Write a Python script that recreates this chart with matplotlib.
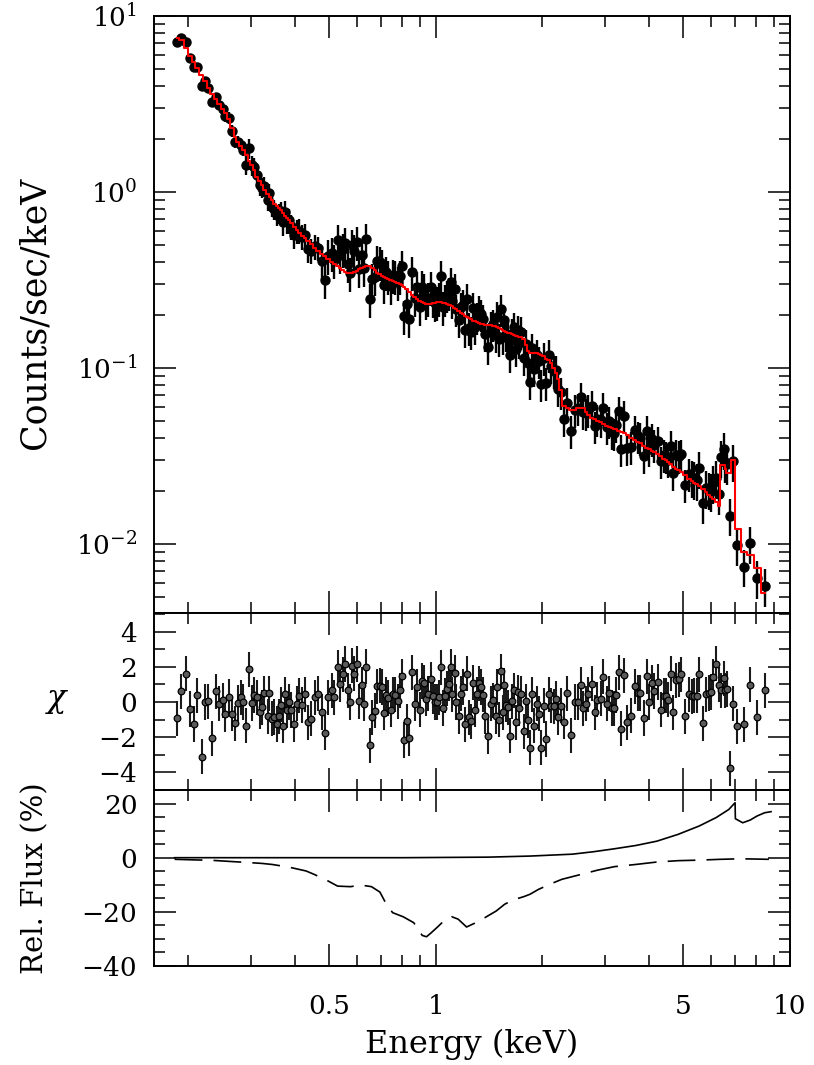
import numpy as np
import matplotlib
matplotlib.use('Agg')
import matplotlib.pyplot as plt
from matplotlib.ticker import FixedLocator, FixedFormatter, NullFormatter, MultipleLocator, LogLocator

# ---------------- data ----------------
energy = [
    0.186, 0.191, 0.197, 0.202, 0.207, 0.212, 0.218, 0.223, 0.228, 0.234,
    0.239, 0.244, 0.250, 0.254, 0.260, 0.266, 0.271, 0.276, 0.281, 0.286,
    0.291, 0.297, 0.302, 0.306, 0.312, 0.318, 0.323, 0.328, 0.335, 0.339,
    0.344, 0.350, 0.356, 0.360, 0.365, 0.370, 0.375, 0.379, 0.384, 0.390,
    0.398, 0.406, 0.412, 0.419, 0.427, 0.435, 0.445, 0.455, 0.465,
    0.476, 0.486, 0.496, 0.508, 0.516, 0.528, 0.537, 0.545, 0.554, 0.563,
    0.572, 0.580, 0.589, 0.598, 0.607, 0.618, 0.627, 0.637, 0.651, 0.661,
    0.673, 0.683, 0.694, 0.704, 0.712, 0.723, 0.733, 0.745, 0.756, 0.767,
    0.780, 0.791, 0.800, 0.812, 0.827, 0.841, 0.857, 0.871, 0.884, 0.900,
    0.913, 0.927, 0.939, 0.951, 0.966, 0.981, 0.994, 1.007, 1.020, 1.035,
    1.047, 1.058, 1.072, 1.086, 1.100, 1.112, 1.129, 1.141, 1.159, 1.174,
    1.190, 1.205, 1.224, 1.240, 1.258, 1.275, 1.292, 1.309, 1.326, 1.340,
    1.358, 1.376, 1.403, 1.431, 1.452, 1.475, 1.487, 1.510, 1.527, 1.544,
    1.560, 1.577, 1.597, 1.618, 1.640, 1.661, 1.683, 1.701, 1.719, 1.742,
    1.769, 1.792, 1.816, 1.840, 1.867, 1.896, 1.926, 1.954, 1.984, 2.015,
    2.050, 2.082, 2.117, 2.151, 2.179, 2.212, 2.251, 2.300, 2.350, 2.412,
    2.466, 2.519, 2.569, 2.607, 2.653, 2.694, 2.759, 2.808, 2.856, 2.926,
    2.970, 3.036, 3.088, 3.143, 3.184, 3.219, 3.283, 3.339, 3.405, 3.472,
    3.563, 3.650, 3.715, 3.771, 3.863, 3.945, 4.005, 4.076, 4.137, 4.237,
    4.321, 4.398, 4.456, 4.513, 4.603, 4.681, 4.773, 4.849, 4.931, 5.051,
    5.194, 5.287, 5.367, 5.450, 5.544, 5.678, 5.802, 5.893, 5.982, 6.061,
    6.192, 6.302, 6.397, 6.512, 6.566, 6.653, 6.759, 6.902, 7.098, 7.417,
    7.727, 8.070, 8.502]

counts = [
    7.11, 7.53, 7.16, 5.78, 5.12, 5.15, 3.98, 4.30, 3.91, 3.24,
    3.48, 3.13, 2.96, 2.72, 2.64, 2.22, 1.93, 1.92, 1.86, 1.74,
    1.43, 1.78, 1.42, 1.38, 1.25, 1.09, 1.06, 1.08, 0.90, 0.984,
    0.824, 0.796, 0.740, 0.752, 0.779, 0.671, 0.766, 0.686, 0.69, 0.638,
    0.566, 0.600, 0.604, 0.556, 0.568, 0.473, 0.463, 0.492, 0.480,
    0.403, 0.318, 0.435, 0.448, 0.409, 0.531, 0.439, 0.472, 0.513, 0.390,
    0.347, 0.497, 0.464, 0.518, 0.366, 0.438, 0.370, 0.537, 0.247, 0.319,
    0.328, 0.406, 0.400, 0.386, 0.297, 0.349, 0.333, 0.293, 0.337, 0.331,
    0.307, 0.334, 0.380, 0.198, 0.232, 0.189, 0.349, 0.249, 0.287, 0.223,
    0.290, 0.281, 0.239, 0.249, 0.289, 0.247, 0.235, 0.236, 0.249, 0.332,
    0.222, 0.246, 0.259, 0.268, 0.306, 0.239, 0.282, 0.216, 0.187, 0.221,
    0.229, 0.164, 0.248, 0.169, 0.160, 0.219, 0.172, 0.194, 0.211, 0.202,
    0.189, 0.156, 0.131, 0.172, 0.177, 0.153, 0.195, 0.146, 0.215, 0.150,
    0.187, 0.156, 0.151, 0.118, 0.156, 0.170, 0.128, 0.164, 0.143, 0.160,
    0.114, 0.136, 0.107, 0.0827, 0.129, 0.0989, 0.119, 0.109, 0.0807, 0.114,
    0.0825, 0.119, 0.103, 0.0964, 0.0968, 0.0758, 0.0728, 0.0516, 0.0636, 0.0438,
    0.058, 0.059, 0.0682, 0.0559, 0.0552, 0.0577, 0.0608, 0.0467, 0.0510, 0.0505,
    0.0595, 0.0460, 0.0498, 0.0432, 0.0426, 0.0475, 0.0567, 0.0345, 0.0533, 0.0349,
    0.0356, 0.0443, 0.0410, 0.0402, 0.0316, 0.0438, 0.0345, 0.0397, 0.0365, 0.0383,
    0.0295, 0.0322, 0.0314, 0.0298, 0.0360, 0.0252, 0.0321, 0.0318, 0.0323, 0.0217,
    0.0251, 0.0239, 0.0235, 0.0230, 0.0269, 0.0170, 0.0209, 0.0205, 0.0201, 0.0223,
    0.0238, 0.0191, 0.0310, 0.0345, 0.0293, 0.0284, 0.0145, 0.0296, 0.00984, 0.00744,
    0.0101, 0.00641, 0.0058]

# fractional size of the error bars, read region by region
rel_err = [0.05] * 12 + [0.08] * 8 + [0.13] * 15 + [0.16] * 14 + \
          [0.22] * 51 + [0.21] * 100 + [0.24] * 22

model = [
    7.45, 7.3, 6.6, 5.9, 5.45, 5.05, 4.65, 4.3, 3.9, 3.6,
    3.38, 3.15, 2.95, 2.82, 2.6, 2.3, 2.05, 1.92, 1.83, 1.74,
    1.62, 1.5, 1.42, 1.33, 1.22, 1.15, 1.09, 1.03, 0.97, 0.94,
    0.90, 0.86, 0.83, 0.81, 0.79, 0.76, 0.735, 0.715, 0.69, 0.665,
    0.635, 0.605, 0.585, 0.565, 0.545, 0.525, 0.505, 0.48, 0.46,
    0.445, 0.43, 0.415, 0.40, 0.39, 0.378, 0.368, 0.36, 0.353, 0.348,
    0.347, 0.348, 0.352, 0.357, 0.363, 0.370, 0.376, 0.380, 0.378, 0.370,
    0.358, 0.348, 0.340, 0.333, 0.329, 0.325, 0.320, 0.316, 0.312, 0.308,
    0.304, 0.298, 0.295, 0.288, 0.280, 0.270, 0.260, 0.253, 0.247, 0.241,
    0.236, 0.233, 0.231, 0.230, 0.231, 0.233, 0.235, 0.236, 0.237, 0.236,
    0.235, 0.233, 0.231, 0.229, 0.227, 0.224, 0.220, 0.216, 0.211, 0.206,
    0.202, 0.198, 0.195, 0.192, 0.189, 0.186, 0.184, 0.182, 0.180, 0.178,
    0.177, 0.176, 0.175, 0.175, 0.174, 0.173, 0.172, 0.169, 0.166, 0.164,
    0.162, 0.160, 0.158, 0.157, 0.155, 0.154, 0.152, 0.151, 0.150, 0.149,
    0.146, 0.135, 0.125, 0.122, 0.121, 0.121, 0.121, 0.120, 0.119, 0.117,
    0.113, 0.111, 0.106, 0.100, 0.094, 0.086, 0.075, 0.061, 0.059, 0.058,
    0.058, 0.059, 0.059, 0.059, 0.056, 0.054, 0.052, 0.051, 0.050, 0.049,
    0.048, 0.0467, 0.0462, 0.0455, 0.0450, 0.0447, 0.0440, 0.0433, 0.0425, 0.0415,
    0.0400, 0.0388, 0.0380, 0.0373, 0.0362, 0.0352, 0.0345, 0.0338, 0.0332, 0.0323,
    0.0315, 0.0305, 0.0298, 0.0292, 0.0283, 0.0275, 0.0267, 0.0262, 0.0255, 0.0245,
    0.0235, 0.0228, 0.0223, 0.0218, 0.0213, 0.0204, 0.0196, 0.0190, 0.0185, 0.0180,
    0.0172, 0.0165, 0.0281, 0.0281, 0.0265, 0.0254, 0.0254, 0.0300, 0.0121, 0.0090,
    0.0087, 0.0073, 0.00525]

chi = [
    -0.93, 0.6, 1.6, -0.4, -1.25, 0.38, -3.1, 0.0, 0.05, -2.05,
    0.6, -0.1, 0.1, -0.7, 0.3, -0.66, -1.2, -0.05, 0.27, 0.0,
    -1.35, 1.85, -0.05, 0.4, 0.28, -0.55, -0.3, 0.5, -0.8, 0.5,
    -0.95, -0.85, -1.25, -0.8, -0.15, -1.35, 0.45, -0.45, 0.0, -0.45,
    -1.25, -0.1, 0.35, -0.17, 0.45, -1.15, -0.95, 0.27, 0.47,
    -0.57, -1.75, 0.27, 0.66, 0.27, 1.97, 1.02, 1.57, 2.16, 0.66,
    0.0, 2.06, 1.6, 2.16, 0.04, 0.98, -0.1, 2.0, -2.46, -0.87,
    -0.5, 0.9, 0.93, 0.85, -0.6, 0.42, 0.23, -0.44, 0.45, 0.42,
    0.05, 0.66, 1.46, -2.16, -1.1, -2.06, 1.7, -0.1, 0.87, -0.44,
    1.19, 1.08, 0.19, 0.47, 1.3, 0.34, 0.0, 0.0, 0.28, 1.97,
    -0.34, 0.36, 0.76, 1.04, 2.0, 0.44, 1.65, 0.0, -0.8, 0.47,
    0.85, -1.27, 1.6, -0.87, -1.1, 1.1, -0.44, 0.44, 1.06, 0.85,
    0.42, -0.8, -1.93, -0.1, 0.1, -0.81, 0.85, -1.0, 1.74, -0.59,
    0.95, -0.15, -0.3, -1.91, 0.04, 0.66, -1.15, 0.55, -0.34, 0.47,
    -1.67, 0.04, -1.04, -2.6, 0.44, -1.35, -0.1, -0.66, -2.6, -0.2,
    -2.1, 0.44, -0.2, -0.25, 0.2, -0.85, -0.2, -1.12, 0.5, -1.88,
    0.0, 0.0, 0.97, -0.36, -0.1, 0.44, 1.04, -0.59, 0.13, 0.2,
    1.44, -0.1, 0.5, -0.34, -0.36, 0.4, 1.69, -1.52, 1.52, -1.15,
    -0.78, 0.89, 0.51, 0.51, -0.91, 1.46, 0.0, 1.08, 0.63, 1.14,
    -0.44, 0.36, 0.36, 0.13, 1.61, -0.59, 1.23, 1.3, 1.57, -0.8,
    0.44, 0.32, 0.36, 0.36, 1.57, -1.21, 0.44, 0.51, 0.57, 1.42,
    2.18, 0.98, 0.66, 1.36, 0.66, 0.74, -3.77, -0.1, -1.38, -1.27,
    0.98, -0.87, 0.66]

# relative flux panel
relflux_energy_solid = [0.183, 0.35, 0.81, 1.064, 1.402, 1.845, 2.428, 2.786, 3.196,
                        3.668, 4.207, 4.827, 5.540, 6.184, 6.716, 6.997, 7.01, 7.352,
                        7.72, 8.074, 8.482, 8.84]
relflux_solid = [0.0, 0.0, 0.0, 0.1, 0.2, 0.6, 1.3, 2.2, 3.3,
                 4.5, 6.1, 8.6, 11.7, 14.8, 17.8, 20.3, 14.4, 12.9,
                 13.9, 15.4, 16.6, 17.0]

relflux_energy_dash = [0.183, 0.235, 0.322, 0.345, 0.385, 0.430, 0.454, 0.493, 0.528,
                       0.574, 0.614, 0.658, 0.695, 0.725, 0.755, 0.808, 0.866, 0.915,
                       0.941, 0.967, 1.007, 1.064, 1.109, 1.156, 1.221, 1.326, 1.402,
                       1.480, 1.564, 1.652, 1.770, 1.845, 1.949, 2.117, 2.267, 2.428,
                       2.638, 2.862, 3.196, 3.668, 4.207, 4.827, 5.540, 6.355, 7.290,
                       8.718]
relflux_dash = [-0.6, -1.0, -2.1, -2.5, -3.5, -4.9, -6.2, -8.4, -10.5,
                -10.7, -10.1, -10.7, -12.7, -17.2, -20.3, -21.8, -24.0, -28.7,
                -29.2, -27.9, -25.8, -22.8, -21.8, -22.7, -25.6, -23.4, -21.5,
                -19.7, -17.2, -15.6, -14.4, -13.5, -11.7, -9.6, -8.0, -7.0,
                -5.8, -4.6, -3.3, -2.5, -1.6, -1.1, -0.9, -0.6, -0.4,
                -0.6]

x_major = [0.5, 1, 5, 10]
x_major_labels = ['0.5', '1', '5', '10']
x_minor = [0.2, 0.3, 0.4, 0.6, 0.7, 0.8, 0.9, 2, 3, 4, 6, 7, 8, 9]

# ---------------- figure ----------------
plt.rcParams['font.family'] = ['DejaVu Serif']
plt.rcParams['mathtext.fontset'] = 'dejavuserif'
plt.rcParams['lines.scale_dashes'] = False

E = np.array(energy)
C = np.array(counts)
R = np.array(rel_err)
M = np.array(model)
X = np.array(chi)

fig = plt.figure(figsize=(8.14, 10.65), dpi=100)
L, W = 154 / 814, 636 / 814
ax1 = fig.add_axes([L, 1 - 613 / 1065, W, 597 / 1065])
ax2 = fig.add_axes([L, 1 - 790 / 1065, W, 177 / 1065])
ax3 = fig.add_axes([L, 1 - 966 / 1065, W, 176 / 1065])

TICK_FS = 19


def style(ax, bottom_labels=False):
    ax.set_xscale('log')
    ax.set_xlim(0.16, 10)
    ax.xaxis.set_major_locator(FixedLocator(x_major))
    ax.xaxis.set_minor_locator(FixedLocator(x_minor))
    ax.xaxis.set_minor_formatter(NullFormatter())
    if bottom_labels:
        ax.xaxis.set_major_formatter(FixedFormatter(x_major_labels))
    else:
        ax.xaxis.set_major_formatter(NullFormatter())
    ax.tick_params(which='both', direction='in', top=True, right=True,
                   width=1.1, labelsize=TICK_FS, color='black')
    ax.tick_params(which='major', length=16)
    ax.tick_params(which='minor', length=8)
    ax.tick_params(axis='y', which='both', pad=12)
    ax.tick_params(axis='x', which='both', pad=20)
    for s in ax.spines.values():
        s.set_linewidth(1.4)


# top panel: spectrum
ax1.errorbar(E, C, yerr=C * R, fmt='o', color='black', ms=6.5,
             elinewidth=1.7, capsize=0, zorder=2)
ax1.step(E, M, where='mid', color='red', lw=1.5, zorder=3)
ax1.set_yscale('log')
ax1.set_ylim(0.00405, 10)
ax1.yaxis.set_major_locator(LogLocator(base=10))
ax1.yaxis.set_minor_locator(LogLocator(base=10, subs=np.arange(2, 10)))
ax1.yaxis.set_minor_formatter(NullFormatter())
style(ax1)

# middle panel: chi residuals
ax2.errorbar(E, X, yerr=1.0, fmt='o', ms=4.8, mfc='#5a5a5a', mec='black',
             mew=0.9, ecolor='#1a1a1a', elinewidth=1.5, capsize=0)
ax2.set_ylim(-5.0, 5.06)
ax2.yaxis.set_major_locator(MultipleLocator(2))
ax2.yaxis.set_minor_locator(MultipleLocator(1))
style(ax2)

# bottom panel: relative flux
ax3.plot(relflux_energy_solid, relflux_solid, color='black', lw=1.2)
ax3.plot(relflux_energy_dash, relflux_dash, color='black', lw=1.2,
         dashes=(20, 8))
ax3.set_ylim(-40, 25)
ax3.yaxis.set_major_locator(MultipleLocator(20))
ax3.yaxis.set_minor_locator(MultipleLocator(5))
style(ax3, bottom_labels=True)

fig.text(35 / 814, 1 - 313 / 1065, 'Counts/sec/keV', rotation=90,
         ha='center', va='center', fontsize=25)
fig.text(57 / 814, 1 - 700 / 1065, r'$\chi$', ha='center', va='center',
         fontsize=23)
fig.text(35 / 814, 1 - 878 / 1065, 'Rel. Flux (%)', rotation=90,
         ha='center', va='center', fontsize=21)
fig.text(472 / 814, 1 - 1044 / 1065, 'Energy (keV)', ha='center',
         va='center', fontsize=23)

fig.savefig('out.png', dpi=100)
